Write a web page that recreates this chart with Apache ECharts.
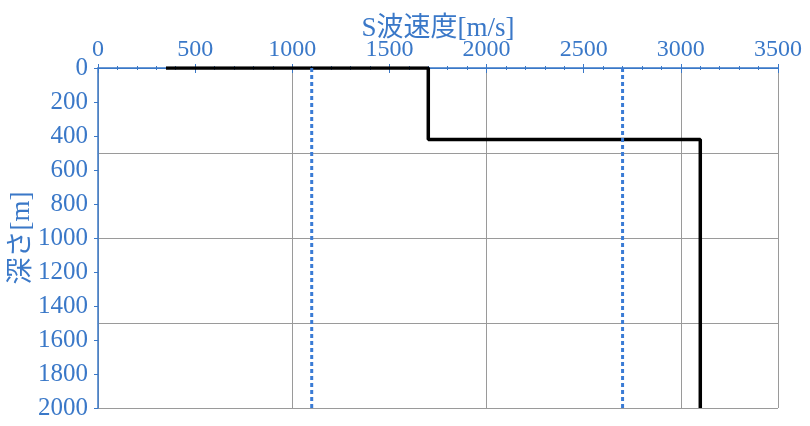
<!DOCTYPE html>
<html>
<head>
<meta charset="utf-8">
<script src="https://cdn.jsdelivr.net/npm/echarts@6/dist/echarts.min.js"></script>
<style>
  html, body { margin: 0; padding: 0; background: #fff; }
  #chart { width: 810px; height: 426px; }
</style>
</head>
<body>
<div id="chart"></div>
<script>
// S波速度プロファイル (深さ方向)
const profileVs = [350, 1700, 1700, 3100, 3100]
const profileDepth = [0, 0, 420, 420, 2000]
// 参考線 (点線)
const refVs = [1100, 2700]
const depthRange = [0, 2000]

const blue = '#3a78c8'
const font = '"Liberation Serif", "Noto Sans CJK JP", serif'
const plain = v => String(v)

const chart = echarts.init(document.getElementById('chart'))

let series = [
  {
    name: 'Vs',
    type: 'line',
    xAxisIndex: 0,
    yAxisIndex: 0,
    symbol: 'none',
    lineStyle: { color: '#000', width: 3.5 },
    data: profileVs.map((v, i) => [v, profileDepth[i]])
  }
]
refVs.forEach(v => {
  series.push({
    type: 'line',
    xAxisIndex: 0,
    yAxisIndex: 0,
    symbol: 'none',
    lineStyle: { color: '#3a7bd5', width: 3, type: [4, 3] },
    data: depthRange.map(d => [v, d])
  })
})

let options = {
  animation: false,
  grid: { left: 98, right: 32, top: 68, bottom: 18, outerBoundsMode: 'none', containLabel: false },
  xAxis: [
    {
      type: 'value',
      position: 'top',
      min: 0, max: 3500, interval: 500,
      name: 'S波速度[m/s]',
      nameLocation: 'middle',
      nameGap: 26,
      nameMoveOverlap: false,
      nameTextStyle: { color: blue, fontSize: 27, fontFamily: font },
      axisLine: { show: true, lineStyle: { color: blue, width: 1 } },
      axisTick: { show: true, length: 4, lineStyle: { color: blue } },
      minorTick: { show: true, splitNumber: 5, length: 2, lineStyle: { color: blue } },
      axisLabel: { color: blue, fontSize: 24, fontFamily: font, margin: 6, formatter: plain },
      splitLine: { show: false }
    },
    {
      type: 'value',
      position: 'bottom',
      min: 0, max: 3500, interval: 500,
      axisLine: { show: true, lineStyle: { color: blue, width: 1.5 } },
      axisTick: { show: true, length: 5, lineStyle: { color: blue } },
      minorTick: { show: true, splitNumber: 5, length: 2, lineStyle: { color: blue } },
      axisLabel: { show: false },
      splitLine: { show: false }
    },
    {
      type: 'value',
      position: 'bottom',
      min: 0, max: 3500, interval: 1000,
      axisLine: { show: false },
      axisTick: { show: false },
      axisLabel: { show: false },
      splitLine: { show: true, lineStyle: { color: '#9a9a9a', width: 1 } }
    }
  ],
  yAxis: [
    {
      type: 'value',
      inverse: true,
      min: 0, max: 2000, interval: 200,
      name: '深さ[m]',
      nameLocation: 'middle',
      nameGap: 63,
      nameMoveOverlap: false,
      nameRotate: 90,
      nameTextStyle: { color: blue, fontSize: 27, fontFamily: font },
      axisLine: { show: true, lineStyle: { color: blue, width: 1.5 } },
      axisTick: { show: true, length: 4, lineStyle: { color: blue } },
      axisLabel: { color: blue, fontSize: 25, fontFamily: font, margin: 10, formatter: plain },
      splitLine: { show: false }
    },
    {
      type: 'value',
      inverse: true,
      position: 'left',
      min: 0, max: 2000, interval: 500,
      axisLine: { show: false },
      axisTick: { show: false },
      axisLabel: { show: false },
      splitLine: { show: true, lineStyle: { color: '#9a9a9a', width: 1 } }
    }
  ],
  series: series
}
chart.setOption(options, true)
</script>
</body>
</html>
